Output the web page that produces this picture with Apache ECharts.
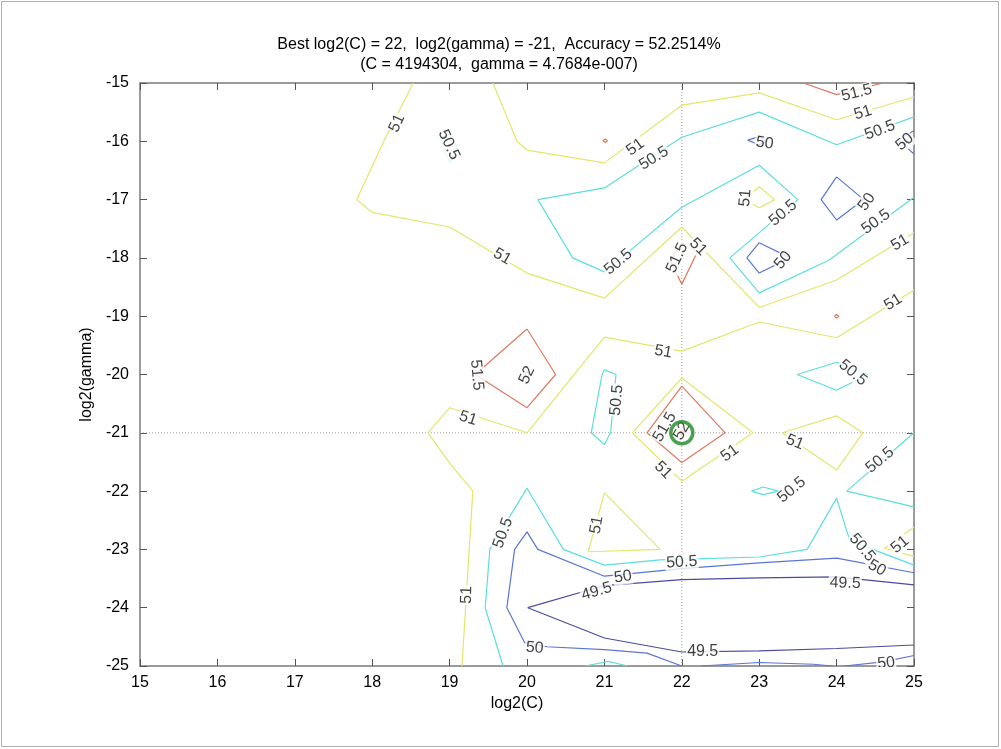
<!DOCTYPE html>
<html>
<head>
<meta charset="utf-8">
<script src="https://cdn.jsdelivr.net/npm/echarts@6/dist/echarts.min.js"></script>
<style>
  html, body { margin: 0; padding: 0; background: #fff; }
  #chart { width: 1001px; height: 749px; }
</style>
</head>
<body>
<div id="chart"></div>
<script>
// Grid-search result: cross-validation accuracy (%) over log2(C) x log2(gamma)
const bestLog2C = 22;
const bestLog2Gamma = -21;
const bestAccuracy = 52.2514;
const bestC = 4194304;
const bestGammaText = '4.7684e-007';

const xRange = [15, 25];   // log2(C)
const yRange = [-25, -15]; // log2(gamma)

// Iso-accuracy lines, one list of polylines per level, in (log2 C, log2 gamma)
const contour49_5 = [
  [[25,-23.61],[24,-23.47],[23,-23.49],[22,-23.52],[21,-23.62],[20.01,-24],[21,-24.52],[22,-24.76],[23,-24.74],[24,-24.7],[25,-24.64]]
];
const contour50 = [
  [[22.85,-15.98],[23,-15.92],[23.1,-16],[23,-16.06],[22.85,-15.98]],
  [[25,-15.82],[24.8,-15.97],[25,-16.22]],
  [[24,-16.61],[24.35,-17],[24,-17.35],[23.8,-17],[24,-16.61]],
  [[23,-17.74],[23.4,-18],[23,-18.26],[22.84,-18],[23,-17.74]],
  [[25,-23.4],[24,-23.15],[23,-23.23],[22,-23.33],[21,-23.46],[20.14,-23],[20,-22.7],[19.84,-23],[19.74,-24],[19.97,-24.6],[20.26,-24.67],[21,-24.72],[21.55,-24.78],[22,-25]],
  [[22.25,-25],[23,-24.94],[23.7,-24.97],[23.95,-25]],
  [[24.1,-25],[24.6,-24.93],[25,-24.82]]
];
const contour50_5 = [
  [[18.88,-15.95],[19,-16.36],[19.1,-16.12],[19,-15.88],[18.88,-15.95]],
  [[25,-15.58],[24,-16.06],[23,-15.5],[22,-15.93],[21,-16.8],[20.14,-17],[20.59,-18],[21,-18.24],[22,-17.13],[23,-16.41],[23.5,-17],[22.62,-18],[23,-18.6],[23.9,-18.04],[25,-16.96]],
  [[23.49,-20],[24,-19.79],[24.4,-20],[24,-20.27],[23.49,-20]],
  [[20.83,-21],[20.97,-20],[21,-19.92],[21.15,-20],[21.08,-21],[21,-21.2],[20.83,-21]],
  [[25,-21],[24.13,-22],[25,-22.27]],
  [[22.9,-22],[23.05,-21.93],[23.25,-22],[23.05,-22.06],[22.9,-22]],
  [[19.69,-25],[19.46,-24],[19.52,-23],[20,-21.95],[20.47,-23],[21,-23.27],[21.72,-23.18],[23,-23.13],[23.62,-23],[24,-22.12],[24.17,-22.85],[25,-23.27]],
  [[20.75,-25],[21.05,-24.92],[21.3,-25]]
];
const contour51 = [
  [[18.53,-15],[18.15,-16],[17.8,-17],[18,-17.22],[19,-17.47],[20,-18.26],[21,-18.69],[22,-17.47],[23,-18.85],[24,-18.38],[25,-17.57]],
  [[19.56,-15],[19.87,-16],[20,-16.15],[21,-16.37],[22,-15.38],[23,-15.17],[24,-15.63],[25,-15.24]],
  [[23,-16.78],[23.2,-17],[23,-17.14],[22.8,-17],[23,-16.78]],
  [[19.16,-25],[19.3,-22],[19,-21.52],[18.72,-21],[19,-20.57],[20,-21],[21,-19.36],[22,-19.6],[23,-19.1],[24,-19.37],[25,-18.55]],
  [[22,-20.06],[22.92,-21],[22,-21.83],[21.36,-21],[22,-20.06]],
  [[23.3,-21],[24,-20.71],[24.34,-21],[24,-21.64],[23.3,-21]],
  [[21,-22.03],[21.72,-23],[20.79,-23.04],[21,-22.03]],
  [[25,-22.62],[24.62,-22.98],[25,-23.12]]
];
const contour51_5 = [
  [[23.57,-15],[24,-15.2],[24.6,-15]],
  [[20,-19.22],[20.37,-20],[20,-20.57],[19.33,-20],[20,-19.22]],
  [[22,-20.2],[22.56,-21],[22,-21.51],[21.55,-21],[22,-20.2]],
  [[21.85,-18.05],[22,-18.45],[22.2,-17.9],[22,-17.75],[21.85,-18.05]],
  [[23.97,-19],[24,-18.97],[24.03,-19],[24,-19.03],[23.97,-19]],
  [[20.98,-15.99],[21.01,-15.96],[21.04,-15.99],[21.01,-16.02],[20.98,-15.99]]
];
const contour52 = [
  [[19.97,-20],[20,-19.95],[20.03,-20],[20,-20.05],[19.97,-20]],
  [[21.97,-21],[22,-20.95],[22.03,-21],[22,-21.05],[21.97,-21]]
];

// Inline level labels: [log2 C, log2 gamma, level, text angle in degrees]
const contourLabels = [
  [18.32,-15.69,51,65], [18.99,-16.06,50.5,-65], [19.68,-17.98,51,-30],
  [21.18,-18.07,50.5,40], [21.40,-16.10,51,36], [21.64,-16.29,50.5,32],
  [24.26,-15.17,51.5,14], [24.34,-15.51,51,17], [24.56,-15.81,50.5,20],
  [24.88,-16.01,50,40], [23.07,-16.03,50,-8], [22.82,-16.97,51,85],
  [23.31,-17.23,50.5,41], [24.39,-17.04,50,55], [24.51,-17.38,50.5,36],
  [24.82,-17.74,51,31], [21.94,-18.0,51.5,65], [22.21,-17.81,51,-45],
  [23.31,-18.04,50,50], [21.76,-19.61,51,-10], [24.73,-18.76,51,32],
  [19.24,-20.75,51,-18], [19.35,-20.01,51.5,-85], [20.0,-20.01,52,65],
  [21.16,-20.44,50.5,85], [21.76,-21.64,51,-45], [22.62,-21.35,51,36],
  [21.78,-20.9,51.5,60], [22.0,-20.97,52,60], [23.46,-21.16,51,-22],
  [24.21,-19.97,50.5,-40], [24.56,-21.47,50.5,40], [23.42,-21.98,50.5,40],
  [20.9,-22.58,51,80], [19.69,-22.72,50.5,70], [19.22,-23.78,51,88],
  [22.0,-23.22,50.5,3], [21.24,-23.47,50,8], [20.9,-23.72,49.5,16],
  [24.11,-23.58,49.5,-2], [24.33,-22.97,50.5,-50], [24.52,-23.32,50,-30],
  [24.82,-22.92,51,40], [20.1,-24.69,50,-5], [22.27,-24.76,49.5,0],
  [23.07,-25.03,50,0], [24.64,-24.95,50,5]
];

// Level colours (jet-like ramp)
const levelColors = {
  49.5: '#4b4b9e',
  50: '#5a76d2',
  50.5: '#5cdede',
  51: '#e4e66a',
  51.5: '#e07862',
  52: '#c84a40'
};

const contourSets = [
  [49.5, contour49_5], [50, contour50], [50.5, contour50_5],
  [51, contour51], [51.5, contour51_5], [52, contour52]
];

const FONT = '"Liberation Sans", Arial, Helvetica, sans-serif';

const series = [];
contourSets.forEach(([level, paths]) => {
  paths.forEach((path) => {
    series.push({
      type: 'line',
      name: String(level),
      data: path,
      showSymbol: false,
      silent: true,
      z: 2,
      lineStyle: { color: levelColors[level], width: 1.2 },
      animation: false
    });
  });
});

// Dotted crosshair through the best parameter pair
series.push({
  type: 'line',
  data: [[bestLog2C, yRange[0]], [bestLog2C, yRange[1]]],
  showSymbol: false, silent: true, z: 1, animation: false,
  lineStyle: { color: '#a0a0a0', width: 1, type: [1, 2] }
});
series.push({
  type: 'line',
  data: [[xRange[0], bestLog2Gamma], [xRange[1], bestLog2Gamma]],
  showSymbol: false, silent: true, z: 1, animation: false,
  lineStyle: { color: '#a0a0a0', width: 1, type: [1, 2] }
});

// Level labels
series.push({
  type: 'scatter',
  symbolSize: 0,
  silent: true,
  z: 5,
  animation: false,
  data: contourLabels.map(([x, y, lev, ang]) => ({
    value: [x, y],
    label: { rotate: ang, formatter: String(lev) }
  })),
  label: {
    show: true,
    position: 'inside',
    color: '#111',
    fontSize: 16,
    fontFamily: FONT,
    backgroundColor: '#fff',
    padding: [0, 1]
  }
});

// Best point marker
series.push({
  type: 'scatter',
  data: [[bestLog2C, bestLog2Gamma]],
  symbol: 'circle',
  symbolSize: 22,
  silent: true,
  z: 8,
  animation: false,
  itemStyle: { color: 'rgba(0,0,0,0)', borderColor: '#1f8a24', borderWidth: 3.5 }
});

const axisCommon = {
  type: 'value',
  interval: 1,
  splitLine: { show: false },
  axisLine: { show: true, lineStyle: { color: '#7a7a7a', width: 1.5 } },
  axisTick: { show: true, inside: true, length: 7, lineStyle: { color: '#555' } }
};

const titleText = 'Best log2(C) = ' + bestLog2C + ',  log2(gamma) = ' + bestLog2Gamma +
  ',  Accuracy = ' + bestAccuracy + '%\n(C = ' + bestC + ',  gamma = ' + bestGammaText + ')';

const chart = echarts.init(document.getElementById('chart'), null, { renderer: 'canvas' });
chart.setOption({
  backgroundColor: '#fff',
  animation: false,
  grid: { left: 140, right: 87, top: 83, bottom: 83, containLabel: false },
  xAxis: [
    Object.assign({}, axisCommon, {
      min: xRange[0], max: xRange[1], position: 'bottom',
      name: 'log2(C)', nameLocation: 'middle', nameGap: 26,
      nameTextStyle: { fontFamily: FONT, fontSize: 16, color: '#000', padding: [0, 20, 0, 0] },
      axisLabel: { fontFamily: FONT, fontSize: 16, color: '#000', margin: 9 }
    }),
    Object.assign({}, axisCommon, {
      min: xRange[0], max: xRange[1], position: 'top',
      axisLabel: { show: false }
    })
  ],
  yAxis: [
    Object.assign({}, axisCommon, {
      min: yRange[0], max: yRange[1], position: 'left',
      name: 'log2(gamma)', nameLocation: 'middle', nameGap: 37,
      nameTextStyle: { fontFamily: FONT, fontSize: 16, color: '#000' },
      axisLabel: { fontFamily: FONT, fontSize: 16, color: '#000', margin: 11 }
    }),
    Object.assign({}, axisCommon, {
      min: yRange[0], max: yRange[1], position: 'right',
      axisLabel: { show: false }
    })
  ],
  graphic: [
    // two-line title above the plot
    { type: 'text', x: 499, y: 35, z: 100,
      style: { text: titleText, textAlign: 'center', textVerticalAlign: 'top',
               font: '16px ' + FONT, fill: '#000', lineHeight: 20 } },
    // strip that trims labels sitting on the lower frame edge
    { type: 'rect', left: 140, top: 667, shape: { width: 775, height: 8 }, style: { fill: '#fff' }, z: 100 },
    // figure frame
    { type: 'rect', shape: { x: 1.5, y: 1.5, width: 997, height: 745 },
      style: { fill: 'none', stroke: '#b0b0b0', lineWidth: 1 }, z: 100, silent: true }
  ],
  series: series
});
</script>
</body>
</html>
